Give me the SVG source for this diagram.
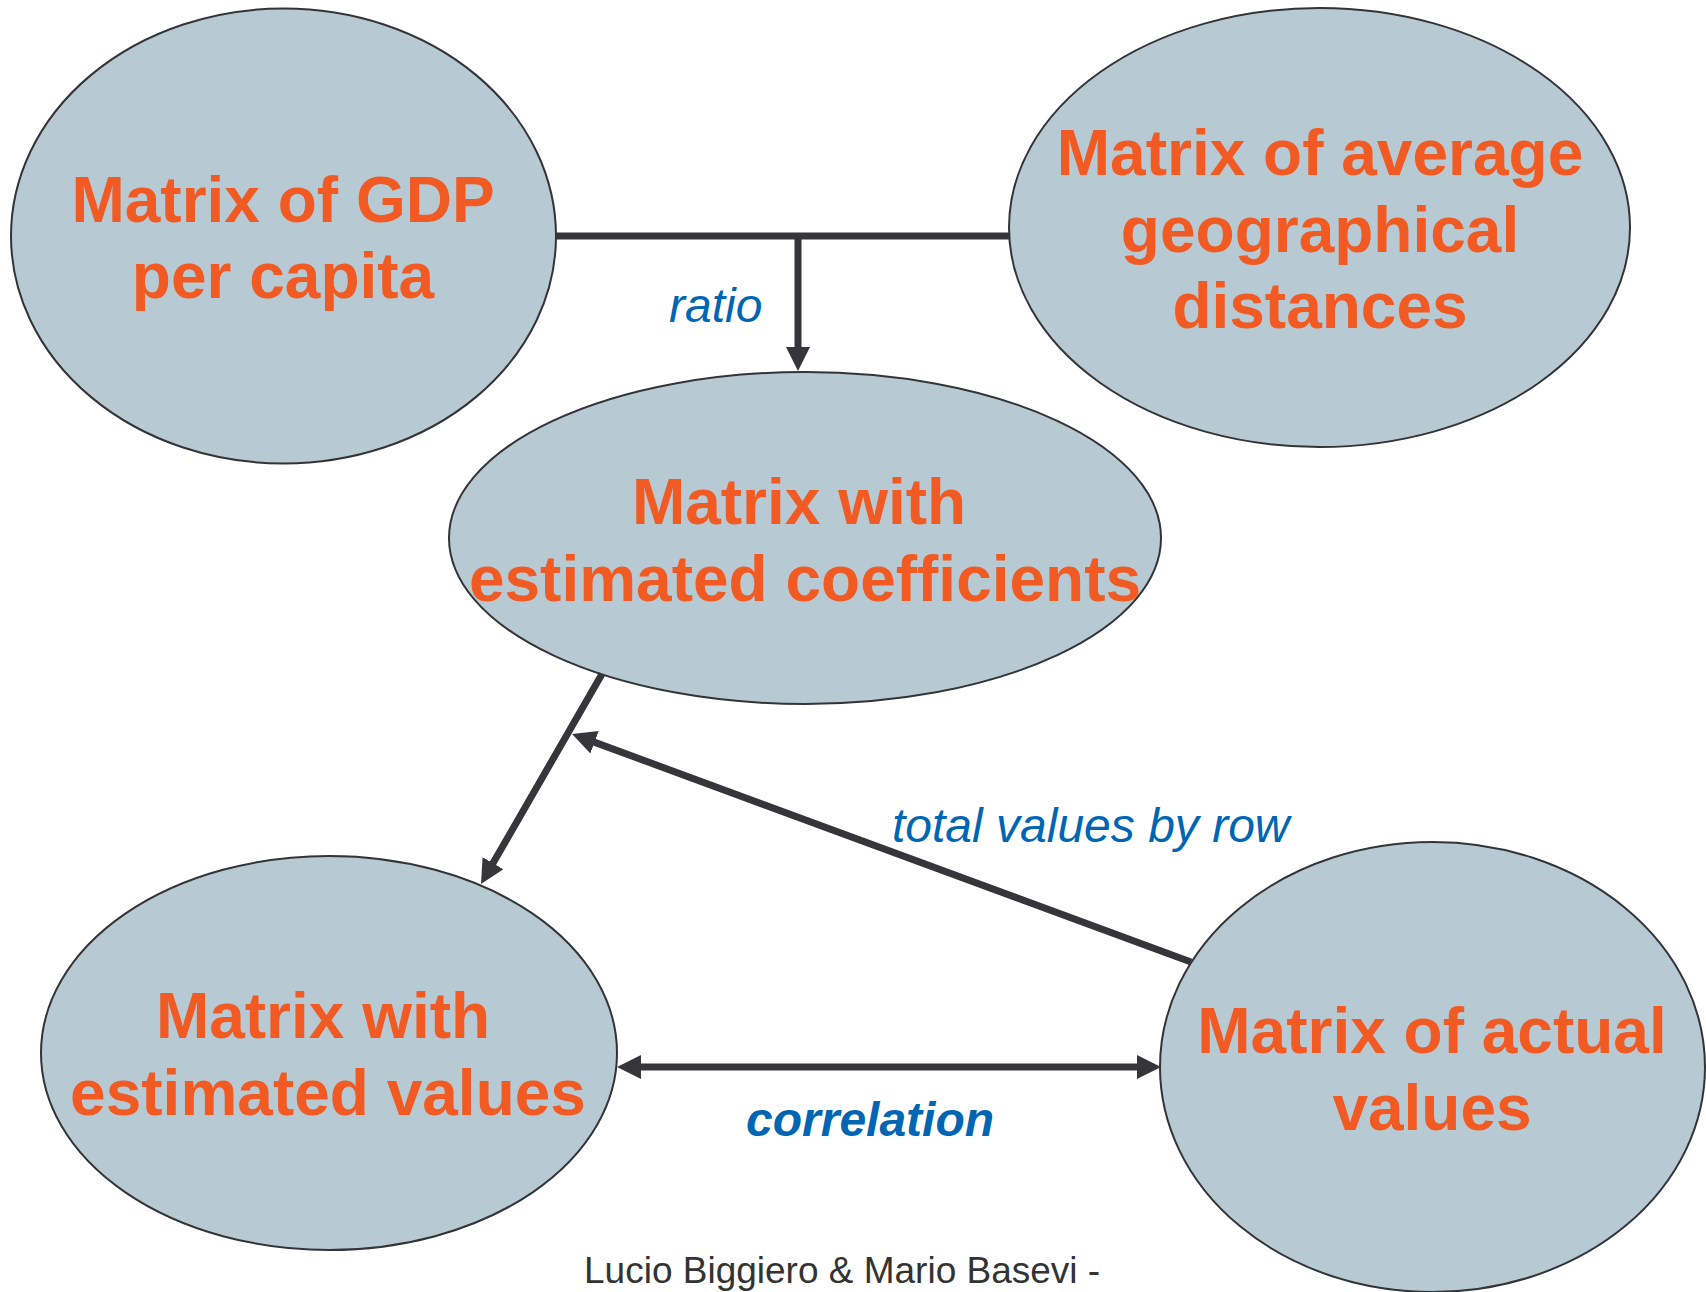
<svg xmlns="http://www.w3.org/2000/svg" width="1706" height="1292" viewBox="0 0 1706 1292">
  <style>
    .node { fill: #B7CAD4; stroke: #333338; stroke-width: 2; }
    .ntext { font-family: "Liberation Sans", Arial, sans-serif; font-weight: bold; font-size: 64px; fill: #F15A22; text-anchor: middle; }
    .conn { stroke: #35353A; stroke-width: 7; fill: none; }
    .lbl { font-family: "Liberation Sans", Arial, sans-serif; font-style: italic; font-size: 48px; fill: #0066B3; }
    .foot { font-family: "Liberation Sans", Arial, sans-serif; font-size: 37px; fill: #333333; }
  </style>
  <defs>
    <marker id="arrow" markerUnits="userSpaceOnUse" viewBox="0 0 24 24" markerWidth="24" markerHeight="24" refX="12" refY="12" orient="auto-start-reverse">
      <path d="M0,0 L24,12 L0,24 z" fill="#35353A"/>
    </marker>
  </defs>
  <rect width="1706" height="1292" fill="#FFFFFF"/>

  <g id="node-gdp">
    <ellipse class="node" cx="283.5" cy="236" rx="272.5" ry="227.5"/>
    <text class="ntext" x="283" y="222">Matrix of GDP</text>
    <text class="ntext" x="283" y="298">per capita</text>
  </g>
  <g id="node-distances">
    <ellipse class="node" cx="1319.5" cy="227.5" rx="310.5" ry="219.5"/>
    <text class="ntext" x="1320" y="175">Matrix of average</text>
    <text class="ntext" x="1320" y="252">geographical</text>
    <text class="ntext" x="1320" y="328">distances</text>
  </g>
  <g id="node-coefficients">
    <ellipse class="node" cx="805" cy="538" rx="356" ry="166"/>
    <text class="ntext" x="799" y="524">Matrix with</text>
    <text class="ntext" x="805" y="601">estimated coefficients</text>
  </g>
  <g id="node-estimated">
    <ellipse class="node" cx="329" cy="1053" rx="288" ry="197"/>
    <text class="ntext" x="323" y="1038">Matrix with</text>
    <text class="ntext" x="328" y="1115">estimated values</text>
  </g>
  <g id="node-actual">
    <ellipse class="node" cx="1432.5" cy="1067" rx="272.5" ry="225"/>
    <text class="ntext" x="1432" y="1053">Matrix of actual</text>
    <text class="ntext" x="1432" y="1130">values</text>
  </g>

  <g id="connectors">
    <line class="conn" x1="556" y1="236" x2="1009" y2="236"/>
    <line class="conn" x1="798" y1="236" x2="798" y2="359" marker-end="url(#arrow)"/>
    <line class="conn" x1="602" y1="674" x2="487" y2="873.6" marker-end="url(#arrow)"/>
    <line class="conn" x1="1191" y1="962" x2="583.3" y2="738.1" marker-end="url(#arrow)"/>
    <line class="conn" x1="629" y1="1067" x2="1149" y2="1067" marker-start="url(#arrow)" marker-end="url(#arrow)"/>
  </g>

  <g id="labels">
    <text class="lbl" x="669" y="322">ratio</text>
    <text class="lbl" x="892" y="842">total values by row</text>
    <text class="lbl" x="746" y="1136" font-weight="bold">correlation</text>
  </g>

  <text class="foot" x="584" y="1283">Lucio Biggiero &amp; Mario Basevi -</text>
</svg>
